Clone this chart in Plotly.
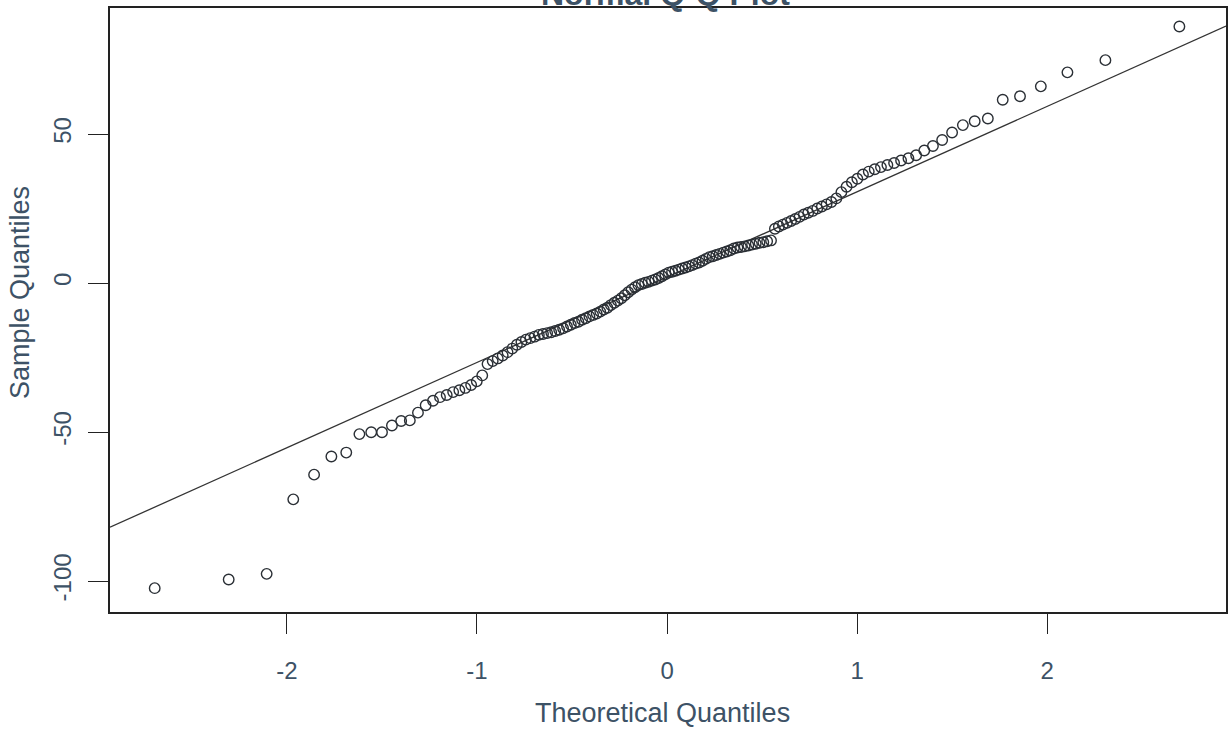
import plotly.graph_objects as go
from statistics import NormalDist

# Sorted sample values (n = 142)
sample_quantiles = [
    -102.4, -99.5, -97.6, -72.6, -64.3, -58.2, -56.9, -50.7, -50.1, -50.1,
    -47.8, -46.3, -46.1, -43.5, -41.0, -39.5, -38.3, -37.6, -36.6, -36.0,
    -35.2, -34.2, -33.0, -31.0, -27.2, -26.2, -25.3, -24.3, -23.2, -22.0,
    -20.7, -19.8, -19.0, -18.5, -18.0, -17.4, -17.1, -16.8, -16.5, -16.1,
    -15.7, -15.2, -14.6, -14.0, -13.4, -13.0, -12.3, -11.8, -11.2, -10.7,
    -10.2, -9.6, -8.9, -8.3, -7.4, -6.6, -5.9, -5.1, -4.1, -3.1,
    -2.2, -1.4, -0.7, -0.3, 0.1, 0.4, 0.8, 1.2, 1.7, 2.3,
    2.9, 3.5, 3.8, 4.1, 4.5, 4.9, 5.2, 5.6, 6.0, 6.5,
    6.9, 7.5, 8.1, 8.7, 9.0, 9.4, 9.8, 10.2, 10.6, 11.0,
    11.6, 11.9, 12.1, 12.3, 12.6, 12.9, 13.2, 13.5, 13.7, 14.0,
    14.3, 18.2, 19.0, 19.6, 20.2, 20.8, 21.5, 22.2, 23.0, 23.6,
    24.2, 25.0, 25.7, 26.4, 27.2, 28.4, 30.5, 32.3, 33.8, 35.0,
    36.4, 37.4, 38.2, 38.9, 39.6, 40.3, 41.1, 41.9, 42.9, 44.5,
    46.0, 48.0, 50.5, 53.0, 54.3, 55.2, 61.5, 62.7, 66.0, 70.7,
    74.8, 86.1,
]
x_ticks = [-2, -1, 0, 1, 2]
y_ticks = [-100, -50, 0, 50]
title_text = "Normal Q-Q Plot"
x_title = "Theoretical Quantiles"
y_title = "Sample Quantiles"

nd = NormalDist()
n = len(sample_quantiles)
# theoretical quantiles as in R's qqnorm (ppoints, a = 0.5)
theoretical = [nd.inv_cdf((i + 0.5) / n) for i in range(n)]


def quantile7(vals, p):
    h = (len(vals) - 1) * p
    lo = int(h)
    hi = min(lo + 1, len(vals) - 1)
    return vals[lo] + (h - lo) * (vals[hi] - vals[lo])


# qqline: through the first and third quartiles
q1, q3 = quantile7(sample_quantiles, 0.25), quantile7(sample_quantiles, 0.75)
t1, t3 = nd.inv_cdf(0.25), nd.inv_cdf(0.75)
slope = (q3 - q1) / (t3 - t1)
intercept = q1 - slope * t1

x_range = [-2.93, 2.94]
y_range = [-110.4, 92.3]

text_col = "#3d5266"
axis_col = "#222222"
font_family = "Liberation Sans, Arial, sans-serif"

fig = go.Figure()
fig.add_trace(go.Scatter(
    x=x_range,
    y=[intercept + slope * x for x in x_range],
    mode="lines",
    line=dict(color="#333333", width=1.3),
    hoverinfo="skip",
    showlegend=False,
))
fig.add_trace(go.Scatter(
    x=theoretical,
    y=sample_quantiles,
    mode="markers",
    marker=dict(symbol="circle-open", size=10.5, color="#2a2f35",
                line=dict(width=1.4, color="#2a2f35")),
    showlegend=False,
))

fig.update_layout(
    width=1230, height=736,
    margin=dict(l=110, r=2, t=8, b=124),
    paper_bgcolor="white", plot_bgcolor="white",
    font=dict(family=font_family, color=text_col, size=24),
    xaxis=dict(
        range=x_range, tickvals=x_ticks, ticktext=[str(v) for v in x_ticks],
        showgrid=False, zeroline=False, showline=True, mirror=True,
        linecolor=axis_col, linewidth=1.6, ticks="outside", ticklen=20,
        tickcolor=axis_col, tickwidth=1.4, ticklabelstandoff=16,
        tickfont=dict(size=24, color=text_col),
    ),
    yaxis=dict(
        range=y_range, tickvals=y_ticks, ticktext=[str(v) for v in y_ticks],
        showgrid=False, zeroline=False, showline=True, mirror=True,
        linecolor=axis_col, linewidth=1.6, ticks="outside", ticklen=20,
        tickcolor=axis_col, tickwidth=1.4, tickangle=-90, ticklabelstandoff=8,
        tickfont=dict(size=24, color=text_col),
    ),
    annotations=[
        dict(text=f"<b>{title_text}</b>", xref="paper", yref="paper",
             x=0.498, y=1.0, xanchor="center", yanchor="bottom", yshift=-6,
             showarrow=False, font=dict(size=32, color=text_col)),
        dict(text=x_title, xref="paper", yref="paper",
             x=0.4955, y=0, xanchor="center", yanchor="middle",
             yshift=-101, showarrow=False, font=dict(size=27, color=text_col)),
        dict(text=y_title, xref="paper", yref="paper",
             x=0, y=0.528, xanchor="center", yanchor="middle", xshift=-90,
             textangle=-90, showarrow=False,
             font=dict(size=27, color=text_col)),
    ],
)

fig.write_html(
    "out.html",
    config={"displayModeBar": False},
    post_script="document.body.style.margin='0';document.body.style.overflow='hidden';",
)
